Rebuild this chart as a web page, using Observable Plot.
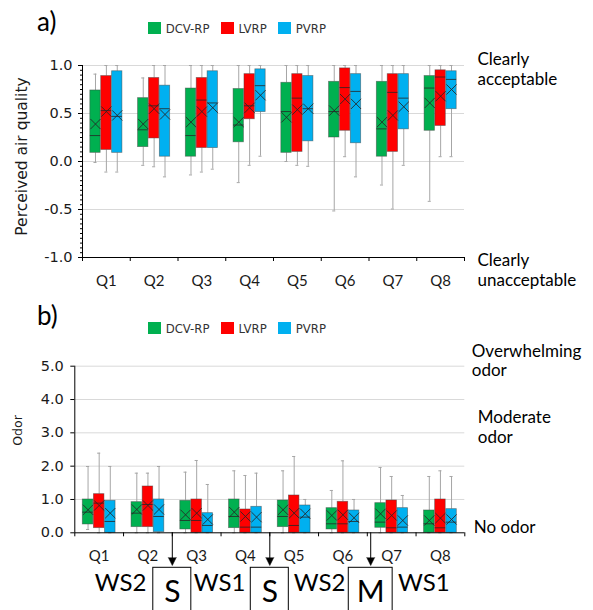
<!DOCTYPE html>
<html>
<head>
<meta charset="utf-8">
<script src="https://cdn.jsdelivr.net/npm/d3@7"></script>
<script src="https://cdn.jsdelivr.net/npm/@observablehq/plot@0.6"></script>
<style>
  html,body{margin:0;padding:0;background:#fff;}
  #chart{position:relative;width:593px;height:610px;overflow:hidden;background:#fff;}
  #chart svg{position:absolute;left:0;}
  .panel-tag{position:absolute;font-family:Lato,sans-serif;font-size:26px;line-height:1;color:#000;}
  .legend{position:absolute;display:flex;align-items:center;font-family:"DejaVu Sans Condensed","DejaVu Sans",sans-serif;font-stretch:condensed;font-size:13px;color:#333;line-height:1;}
  .legend .item{display:flex;align-items:center;margin-right:11px;}
  .legend .sw{display:inline-block;width:13px;height:12px;margin-right:5px;}
</style>
</head>
<body>
<div id="chart"></div>
<script>
// ---------------- data ----------------
const questions = ["Q1","Q2","Q3","Q4","Q5","Q6","Q7","Q8"];
const systems = ["DCV-RP","LVRP","PVRP"];
const systemColors = ["#00B050","#FF0000","#00B0F0"];

// a) Perceived air quality (rows: DCV-RP, LVRP, PVRP; columns: Q1..Q8)
const aqLow = [
  [-0.01,-0.04,-0.14,-0.22, 0.00,-0.515,-0.245,-0.415],
  [-0.11,-0.055,-0.11,-0.04,-0.04, 0.05,-0.495, 0.05],
  [-0.11,-0.16,-0.08, 0.055,-0.05,-0.16,-0.04, 0.05]
];
const aqQ1 = [
  [0.09,0.15,0.05,0.20,0.09,0.25,0.05,0.32],
  [0.12,0.24,0.14,0.44,0.10,0.32,0.10,0.37],
  [0.09,0.05,0.14,0.515,0.21,0.19,0.335,0.545]
];
const aqMedian = [
  [0.27,0.33,0.27,0.38,0.52,0.52,0.34,0.765],
  [0.53,0.58,0.64,0.58,0.66,0.77,0.72,0.88],
  [0.47,0.55,0.61,0.79,0.55,0.73,0.66,0.855]
];
const aqQ3 = [
  [0.74,0.66,0.76,0.755,0.82,0.83,0.83,0.89],
  [0.89,0.87,0.87,0.91,0.91,0.97,0.91,0.95],
  [0.94,0.79,0.94,0.96,0.89,0.91,0.91,0.94]
];
const aqHigh = [
  [0.91,0.87,1,1,1,1,1,1],
  [1,1,1,1,1,1,1,1],
  [1,1,1,1,1,1,1,1]
];
const aqMean = [
  [0.39,0.39,0.41,0.41,0.46,0.53,0.41,0.61],
  [0.52,0.55,0.52,0.56,0.54,0.65,0.48,0.68],
  [0.48,0.49,0.56,0.69,0.55,0.60,0.57,0.75]
];
const aqTicks = [-1,-0.5,0,0.5,1];
const aqScaleLabels = ["Clearly\nacceptable","Clearly\nunacceptable"];
const aqScaleValues = [1,-1];

// b) Odor (rows: DCV-RP, LVRP, PVRP; columns: Q1..Q8)
const odLow = [
  [0.10,0,0,0,0,0,0,0],
  [0,0,0,0,0,0,0,0],
  [0,0,0,0,0,0,0,0]
];
const odQ1 = [
  [0.25,0.17,0.10,0.14,0.17,0.10,0.15,0],
  [0.14,0.17,0,0,0,0,0,0],
  [0,0.02,0,0,0,0,0,0]
];
const odMedian = [
  [0.62,0.59,0.37,0.49,0.49,0.27,0.32,0.27],
  [0.89,0.85,0.37,0.17,0.22,0.27,0.15,0.15],
  [0.34,0.49,0.22,0.17,0.47,0.34,0.17,0.32]
];
const odQ3 = [
  [1.0,0.92,0.96,1.0,0.97,0.74,0.89,0.67],
  [1.16,1.39,1.0,0.70,1.12,0.93,0.97,1.0],
  [0.96,1.0,0.59,0.78,0.82,0.67,0.74,0.71]
];
const odHigh = [
  [1.99,1.79,1.82,1.86,1.86,1.27,1.96,1.69],
  [2.39,1.79,2.17,1.72,2.29,2.16,1.69,1.86],
  [1.99,1.99,1.45,1.79,1.0,1.0,1.12,1.69]
];
const odMean = [
  [0.69,0.70,0.54,0.62,0.69,0.52,0.57,0.37],
  [0.82,0.82,0.59,0.49,0.59,0.54,0.52,0.44],
  [0.59,0.70,0.40,0.47,0.57,0.45,0.37,0.40]
];
const odTicks = [0,1,2,3,4,5];
const odScaleLabels = ["Overwhelming\nodor","Moderate\nodor","No odor"];
const odScaleValues = [5,3,0];

// schedule annotation under panel b
const annotLabels = ["WS2","S","WS1","S","WS2","M","WS1"];
const annotBoxed  = [false,true,false,true,false,true,false];

// ---------------- layout ----------------
const annotX = [0.94,2.0,2.97,4.0,5.02,6.07,7.16];
const annotBoxHalf = t => (t === "M" ? 0.45 : 0.39);
const aqScaleDy = [3,12];
const odScaleDx = [7,13,9];

const STEP = 0.228, HALF = 0.108, CAP = 0.032;
const WHISKER = "#a6a6a6", INK = "#262626";
const cx = d => d.i + 0.5 + (d.j - 1) * STEP;

function toRows(low,q1,med,q3,high,mean){
  return questions.flatMap((q,i) => systems.map((s,j) => ({
    question:q, system:s, i, j,
    low:low[j][i], q1:q1[j][i], med:med[j][i], q3:q3[j][i], high:high[j][i], mean:mean[j][i]
  })));
}
function boxMarks(rows){
  return [
    Plot.ruleX(rows,{x:cx,y1:"low",y2:"q1",stroke:WHISKER,strokeWidth:1}),
    Plot.ruleX(rows,{x:cx,y1:"q3",y2:"high",stroke:WHISKER,strokeWidth:1}),
    Plot.ruleY(rows,{y:"low",x1:d=>cx(d)-CAP,x2:d=>cx(d)+CAP,stroke:WHISKER}),
    Plot.ruleY(rows,{y:"high",x1:d=>cx(d)-CAP,x2:d=>cx(d)+CAP,stroke:WHISKER}),
    Plot.rect(rows,{x1:d=>cx(d)-HALF,x2:d=>cx(d)+HALF,y1:"q1",y2:"q3",fill:"system",stroke:"#404040",strokeOpacity:0.55,strokeWidth:0.8}),
    Plot.ruleY(rows,{y:"med",x1:d=>cx(d)-HALF,x2:d=>cx(d)+HALF,stroke:INK,strokeOpacity:0.8}),
    Plot.dot(rows,{x:cx,y:"mean",symbol:"times",r:4.7,stroke:INK,strokeOpacity:0.85,strokeWidth:1})
  ];
}
const fmt = d => d.toFixed(1);
const chart = document.getElementById("chart");

// ---------------- panel a ----------------
const A = {height:295, top:65, bottom:38, left:82, right:129};
const svgA = Plot.plot({
  width:593, height:A.height,
  marginTop:A.top, marginBottom:A.bottom, marginLeft:A.left, marginRight:A.right,
  x:{domain:[0,questions.length], axis:null, label:null},
  y:{domain:[aqTicks[0], aqTicks[aqTicks.length-1]], axis:null, label:null},
  color:{domain:systems, range:systemColors},
  style:{fontFamily:"'DejaVu Sans',sans-serif", fontSize:"14.5px", color:"#1a1a1a", background:"transparent"},
  marks:[
    Plot.ruleY(aqTicks.slice(1),{stroke:"#d9d9d9"}),
    ...boxMarks(toRows(aqLow,aqQ1,aqMedian,aqQ3,aqHigh,aqMean)),
    Plot.axisY({ticks:d3.range(-20,21).map(k=>k/20), tickSize:2, tickFormat:()=>"", stroke:"#000", label:null}),
    Plot.axisY({ticks:aqTicks, tickSize:4, tickPadding:6, tickFormat:fmt, stroke:"#000", label:null}),
    Plot.axisX({ticks:d3.range(0,questions.length+1), tickSize:4, tickFormat:()=>"", stroke:"#000", label:null}),
    Plot.ruleX([0],{stroke:"#000"}),
    Plot.ruleY([aqTicks[0]],{stroke:"#000"}),
    Plot.text(questions,{x:(d,i)=>i+0.5, text:d=>d, frameAnchor:"bottom", lineAnchor:"bottom", dy:28, fontFamily:"Lato, sans-serif", fontSize:15}),
    Plot.text(["Perceived air quality"],{text:d=>d, frameAnchor:"left", textAnchor:"middle", lineAnchor:"middle", rotate:-90, dx:-60, dy:-5, fontSize:15.5}),
    ...aqScaleLabels.map((t,k)=>Plot.text([t],{text:d=>d, x:questions.length, y:aqScaleValues[k], dx:13, dy:aqScaleDy[k], textAnchor:"start", lineAnchor:"middle", lineHeight:1.15, fontFamily:"Lato, sans-serif", fontSize:17, fill:"#000"}))
  ]
});
svgA.style.top = "0px";
chart.appendChild(svgA);

// ---------------- panel b ----------------
const B = {offset:295, height:315, top:70.7, bottom:77.7, left:74.3, right:128.7};
const unitB = (B.height - B.top - B.bottom) / (odTicks[odTicks.length-1] - odTicks[0]);
const below = px => -px / unitB;
const annot = annotLabels.map((t,k) => ({t, boxed:annotBoxed[k], pos:annotX[k]}));
const boxedA = annot.filter(d => d.boxed);
const plainA = annot.filter(d => !d.boxed);

const svgB = Plot.plot({
  width:593, height:B.height,
  marginTop:B.top, marginBottom:B.bottom, marginLeft:B.left, marginRight:B.right,
  x:{domain:[0,questions.length], axis:null, label:null},
  y:{domain:[odTicks[0], odTicks[odTicks.length-1]], axis:null, label:null},
  color:{domain:systems, range:systemColors},
  style:{fontFamily:"'DejaVu Sans',sans-serif", fontSize:"14.5px", color:"#1a1a1a", background:"transparent"},
  marks:[
    Plot.ruleY(odTicks.slice(1),{stroke:"#d9d9d9"}),
    ...boxMarks(toRows(odLow,odQ1,odMedian,odQ3,odHigh,odMean)),
    Plot.axisY({ticks:odTicks, tickSize:4, tickPadding:7, tickFormat:fmt, stroke:"#000", label:null}),
    Plot.axisX({ticks:d3.range(0,questions.length+1), tickSize:4, tickFormat:()=>"", stroke:"#000", label:null}),
    Plot.ruleX([0],{stroke:"#000"}),
    Plot.ruleY([odTicks[0]],{stroke:"#000"}),
    Plot.text(questions,{x:(d,i)=>i+0.5, text:d=>d, frameAnchor:"bottom", lineAnchor:"bottom", dy:28, fontFamily:"Lato, sans-serif", fontSize:15}),
    Plot.text(["Odor"],{text:d=>d, frameAnchor:"left", textAnchor:"middle", lineAnchor:"middle", rotate:-90, dx:-57, dy:-19, fontSize:12.5}),
    ...odScaleLabels.map((t,k)=>Plot.text([t],{text:d=>d, x:questions.length, y:odScaleValues[k], dx:odScaleDx[k], dy:-6, textAnchor:"start", lineAnchor:"middle", lineHeight:1.15, fontFamily:"Lato, sans-serif", fontSize:17, fill:"#000"})),
    // schedule annotation
    Plot.ruleX(boxedA,{x:d=>d.pos, y1:0, y2:below(30), stroke:"#000"}),
    Plot.vector(boxedA,{x:d=>d.pos, y:below(32.7), length:8, rotate:180, shape:"spike", r:4, anchor:"end", fill:"#000", stroke:"#000", strokeWidth:0.5}),
    Plot.rect(boxedA,{x1:d=>d.pos-annotBoxHalf(d.t), x2:d=>d.pos+annotBoxHalf(d.t), y1:below(35), y2:below(140), fill:"none", stroke:"#000", strokeWidth:1}),
    Plot.text(plainA,{x:d=>d.pos, y:below(57.7), text:d=>d.t, lineAnchor:"bottom", fontFamily:"Lato, sans-serif", fontSize:24, fill:"#000"}),
    Plot.text(boxedA,{x:d=>d.pos, y:below(69.4), text:d=>d.t, lineAnchor:"bottom", fontFamily:"Lato, sans-serif", fontSize:30, fill:"#000"})
  ]
});
svgB.style.top = B.offset + "px";
chart.appendChild(svgB);

// ---------------- panel tags & legends ----------------
function addTag(txt, top){
  d3.select(chart).append("div").attr("class","panel-tag").style("left","37px").style("top",top+"px").text(txt);
}
function addLegend(top){
  const lg = d3.select(chart).append("div").attr("class","legend").style("left","147.7px").style("top",top+"px");
  systems.forEach((s,k) => {
    const it = lg.append("div").attr("class","item");
    it.append("span").attr("class","sw").style("background",systemColors[k]);
    it.append("span").text(s);
  });
}
addTag("a)", 8);
addTag("b)", 302);
addLegend(21.7);
addLegend(321.7);
</script>
</body>
</html>
